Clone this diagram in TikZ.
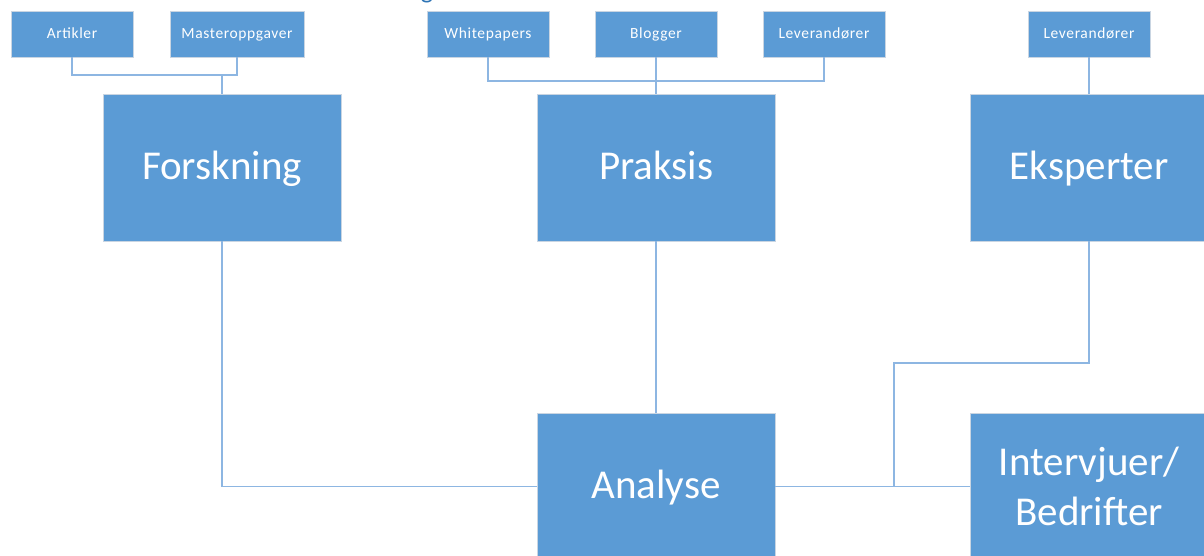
\documentclass[tikz,border=0pt]{standalone}
\usepackage{fontspec}
\setmainfont{Carlito}
\definecolor{boxblue}{HTML}{5B9BD5}
\definecolor{linkblue}{HTML}{8DB6E2}
\definecolor{edgegray}{HTML}{C9D5E2}
\definecolor{titleblue}{HTML}{2E74B5}
\begin{document}
\begin{tikzpicture}[x=1pt,y=-1pt,
  smallbox/.style={rectangle, fill=boxblue, draw=edgegray, line width=0.8pt,
    minimum width=122pt, minimum height=46pt, inner sep=0pt, text=white,
    text height=13pt, text depth=3pt,
    font=\fontsize{15.5}{18}\selectfont\addfontfeature{LetterSpace=4}},
  bigbox/.style={rectangle, fill=boxblue, draw=edgegray, line width=0.8pt,
    minimum width=238pt, minimum height=147pt, inner sep=0pt, text=white,
    text height=32pt, text depth=9pt,
    align=center, font=\fontsize{41}{50}\selectfont},
  twoline/.style={text height=, text depth=},
  conn/.style={draw=linkblue, line width=1.2pt}]
\useasboundingbox (0,0) rectangle (1204,556);
\clip (0,0) rectangle (1204,556);
\fill[white] (0,0) rectangle (1204,556);

% heading above the chart (only its lowest part falls inside the page)
\node[anchor=south, inner sep=0pt, text=titleblue, font=\fontsize{26}{30}\selectfont]
  (title) at (427,3) {g};

% source boxes
\node[smallbox] (art)  at (72,34)   {Artikler};
\node[smallbox, minimum width=134pt] (mas) at (237,34) {Masteroppgaver};
\node[smallbox] (wp)   at (488,34)  {Whitepapers};
\node[smallbox] (blog) at (656,34)  {Blogger};
\node[smallbox] (lev)  at (824,34)  {Leverandører};
\node[smallbox] (lev2) at (1089,34) {Leverandører};

% main boxes
\node[bigbox] (for) at (222,167.5)  {Forskning};
\node[bigbox] (pra) at (656,167.5)  {Praksis};
\node[bigbox] (eks) at (1089,167.5) {Eksperter};
\node[bigbox] (ana) at (656,486.5)  {Analyse};
\node[bigbox, twoline] (int) at (1089,486.5) {Intervjuer/\\Bedrifter};

% junction points
\coordinate (j1) at (222,75);
\coordinate (j2) at (656,81);
\coordinate (j3) at (894,363);

% connectors
\draw[conn] (art.south) |- (j1) -| (mas.south);
\draw[conn] (j1) -- (for.north);
\draw[conn] (wp.south) |- (j2) -| (lev.south);
\draw[conn] (blog.south) -- (pra.north);
\draw[conn] (lev2.south) -- (eks.north);
\draw[conn] (for.south) |- (ana.west);
\draw[conn] (pra.south) -- (ana.north);
\draw[conn] (ana.east) -- (int.west);
\draw[conn] (eks.south) |- (j3) |- (int.west);
\end{tikzpicture}
\end{document}
